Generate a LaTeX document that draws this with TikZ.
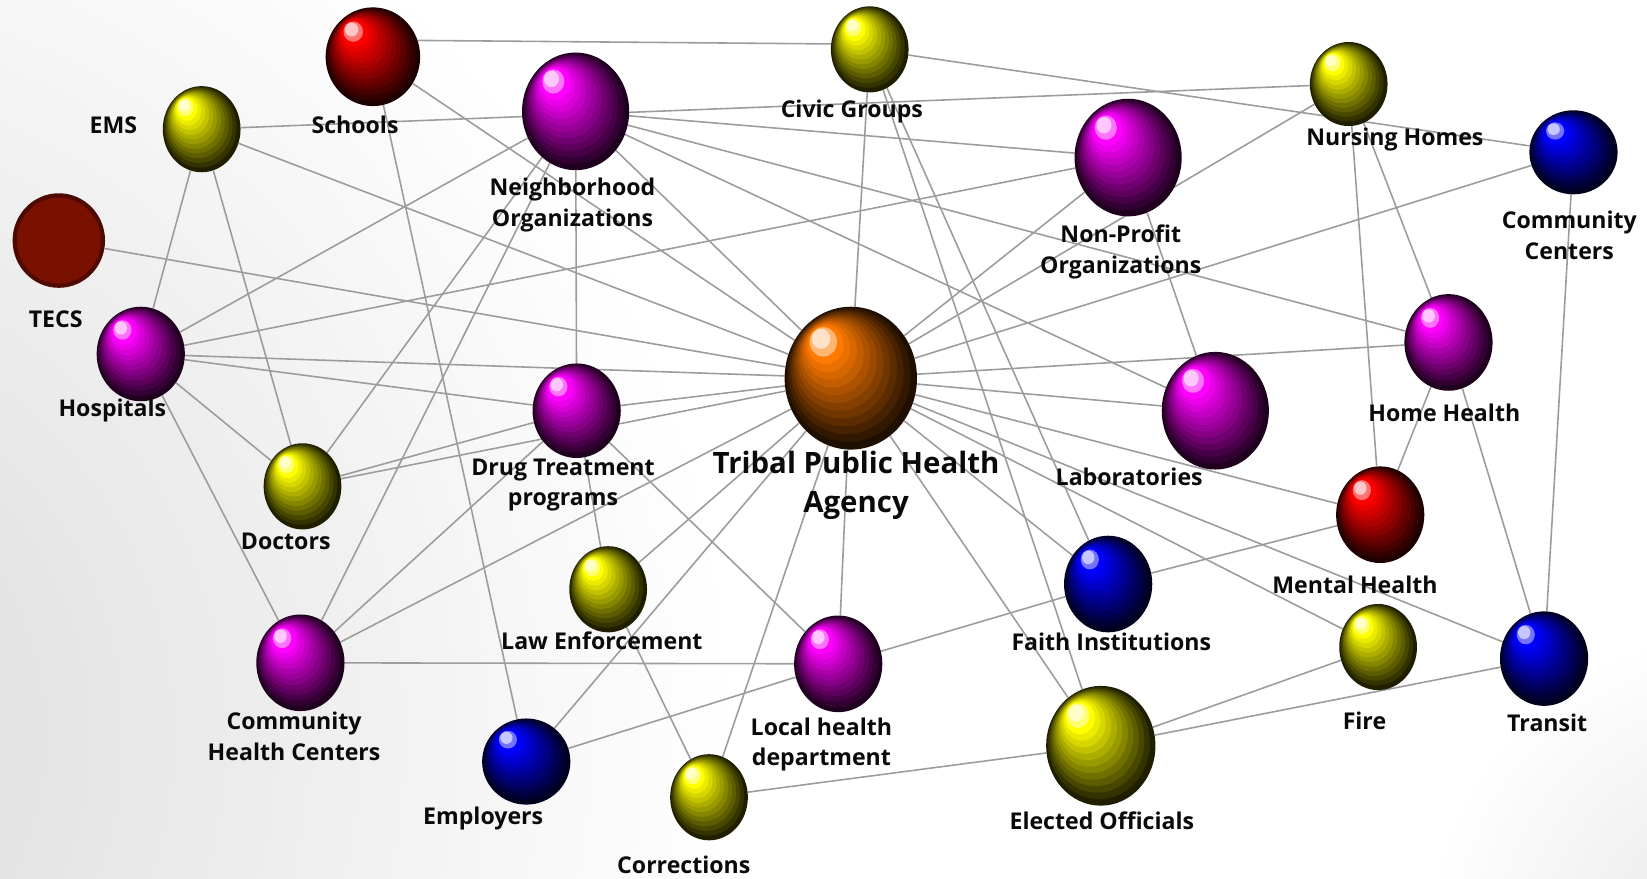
\documentclass[tikz,border=0pt]{standalone}
\usepackage{fontspec}
\setmainfont{Open Sans}
\usetikzlibrary{shapes.geometric}
\definecolor{linkgray}{HTML}{9C9C9C}
\definecolor{ballyellow}{HTML}{FFFF00}
\definecolor{ballmagenta}{HTML}{FF00FF}
\definecolor{ballred}{HTML}{FF0000}
\definecolor{ballblue}{HTML}{0000FF}
\definecolor{ballorange}{HTML}{FF7A00}
\definecolor{tecsfill}{HTML}{7A1000}
\definecolor{tecsedge}{HTML}{4E0A00}
\definecolor{labeltext}{HTML}{0A0A0A}

% invisible ellipse that the links attach to
\newcommand\placeball[6]{%
  \node[ellipse,inner sep=0pt,minimum width={2*#4pt},minimum height={2*#5pt}] (#1) at (#2,#3) {};}
% stepped sphere: nested ellipses drifting towards the highlight
\newcommand\paintball[6]{%
  \foreach \balK in {0,...,13}{%
    \pgfmathsetmacro\balT{\balK/13}%
    \pgfmathsetmacro\balX{#2-0.45*#4*\balT}%
    \pgfmathsetmacro\balY{#3-0.55*#5*\balT}%
    \pgfmathsetmacro\balRX{#4*(1-0.86*\balT)}%
    \pgfmathsetmacro\balRY{#5*(1-0.86*\balT)}%
    \ifnum\balK<12
      \pgfmathtruncatemacro\balP{12+8*\balK}%
      \fill[#6!\balP!black] (\balX,\balY) ellipse [x radius=\balRX pt, y radius=\balRY pt];
    \else\ifnum\balK=12
      \fill[#6!55!white] (\balX,\balY) ellipse [x radius=\balRX pt, y radius=\balRY pt];
    \else
      \fill[#6!22!white] (\balX,\balY) ellipse [x radius=\balRX pt, y radius=\balRY pt];
    \fi\fi
  }}
% soft grey glow: many concentric discs, greyer towards the middle
\newcommand\cornerglow[4]{% x, y, radius, strongest grey (percent)
  \foreach \glR in {#3,...,10}{%
    \pgfmathsetmacro\glG{#4*(1-\glR/#3)}%
    \fill[black!\glG] (#1,#2) circle [radius=\glR pt];
  }}

% name, x, y, x radius, y radius, colour
\newcommand\balllist{%
  \ballitem{schools}{355}{54}{45}{47}{ballred}
  \ballitem{civic}{828}{47}{37}{41}{ballyellow}
  \ballitem{ems}{192}{123}{37}{41}{ballyellow}
  \ballitem{neigh}{548}{106}{51}{56}{ballmagenta}
  \ballitem{nursing}{1284}{80}{37}{40}{ballyellow}
  \ballitem{nonprofit}{1074}{150}{51}{56}{ballmagenta}
  \ballitem{commcent}{1498}{145}{42}{40}{ballblue}
  \ballitem{hospitals}{134}{337}{42}{45}{ballmagenta}
  \ballitem{tribal}{810}{360}{63}{68}{ballorange}
  \ballitem{homehealth}{1379}{326}{42}{46}{ballmagenta}
  \ballitem{drug}{549}{391}{42}{45}{ballmagenta}
  \ballitem{labs}{1157}{391}{51}{56}{ballmagenta}
  \ballitem{doctors}{288}{463}{37}{41}{ballyellow}
  \ballitem{mental}{1314}{490}{42}{46}{ballred}
  \ballitem{lawenf}{579}{561}{37}{41}{ballyellow}
  \ballitem{faith}{1055}{556}{42}{46}{ballblue}
  \ballitem{chc}{286}{631}{42}{46}{ballmagenta}
  \ballitem{localhd}{798}{632}{42}{46}{ballmagenta}
  \ballitem{fire}{1312}{616}{37}{41}{ballyellow}
  \ballitem{transit}{1470}{627}{42}{45}{ballblue}
  \ballitem{employers}{501}{725}{42}{41}{ballblue}
  \ballitem{corrections}{675}{759}{37}{41}{ballyellow}
  \ballitem{elected}{1048}{710}{52}{57}{ballyellow}
}

\begin{document}
\begin{tikzpicture}[x=1pt,y=-1pt,
  link/.style={draw=linkgray,line width=1.5pt},
  lbl/.style={text=labeltext,font=\bfseries\fontsize{22}{29}\selectfont,align=center,inner sep=0pt},
  biglbl/.style={text=labeltext,font=\bfseries\fontsize{28}{37}\selectfont,align=center,inner sep=0pt}]

% page with soft grey corners
\useasboundingbox (0,0) rectangle (1568,836);
\fill[white] (0,0) rectangle (1568,836);
\begin{scope}
  \clip (0,0) rectangle (1568,836);
  \cornerglow{-250}{700}{950}{15}
  \cornerglow{1660}{900}{300}{10}
\end{scope}

% anchors for the links
\let\ballitem\placeball
\balllist
\node[ellipse,inner sep=0pt,minimum width=88pt,minimum height=90pt] (tecs) at (56,229) {};

% links
\draw[link] (schools.20) -- (civic.172);
\foreach \a/\b in {
  schools/tribal, schools/employers,
  ems/nursing, ems/tribal, ems/hospitals, ems/doctors,
  tecs/tribal,
  hospitals/neigh, hospitals/nonprofit, hospitals/tribal, hospitals/drug, hospitals/doctors, hospitals/chc,
  neigh/drug, neigh/doctors, neigh/chc, neigh/tribal, neigh/nonprofit, neigh/homehealth, neigh/labs,
  civic/tribal, civic/commcent, civic/faith, civic/elected,
  nursing/tribal, nursing/mental, nursing/homehealth,
  commcent/tribal, commcent/transit,
  nonprofit/tribal, nonprofit/labs,
  homehealth/tribal, homehealth/mental, homehealth/transit,
  tribal/labs, tribal/drug, tribal/doctors, tribal/chc, tribal/lawenf, tribal/employers,
  tribal/corrections, tribal/localhd, tribal/faith, tribal/elected, tribal/fire, tribal/transit, tribal/mental,
  drug/doctors, drug/chc, drug/lawenf, drug/localhd,
  lawenf/corrections,
  faith/mental, faith/localhd,
  fire/elected, transit/elected,
  localhd/chc, localhd/employers,
  elected/corrections}
  \draw[link] (\a) -- (\b);

% spheres
\let\ballitem\paintball
\balllist
\fill[tecsfill,draw=tecsedge,line width=4pt] (tecs.center) ellipse [x radius=42pt, y radius=43pt];

% labels
\node[lbl] (l-ems) at (108,119) {EMS};
\node[lbl] (l-schools) at (338,119) {Schools};
\node[lbl] (l-civic) at (811,106) {Civic Groups};
\node[lbl] (l-nursing) at (1328,133) {Nursing Homes};
\node[lbl] (l-neigh) at (545,195) {Neighborhood\\Organizations};
\node[lbl] (l-nonprofit) at (1067,240) {Non-Profit\\Organizations};
\node[lbl] (l-commcent) at (1494,224) {Community\\Centers};
\node[lbl] (l-tecs) at (53,304) {TECS};
\node[lbl] (l-hospitals) at (107,391) {Hospitals};
\node[lbl] (l-homehealth) at (1375,393) {Home Health};
\node[lbl] (l-drug) at (536,462) {Drug Treatment\\programs};
\node[biglbl] (l-tribal) at (815,462) {Tribal Public Health\\Agency};
\node[lbl] (l-labs) at (1075,454) {Laboratories};
\node[lbl] (l-doctors) at (272,515) {Doctors};
\node[lbl] (l-mental) at (1290,557) {Mental Health};
\node[lbl] (l-lawenf) at (573,610) {Law Enforcement};
\node[lbl] (l-faith) at (1058,611) {Faith Institutions};
\node[lbl] (l-chc) at (280,701) {Community\\Health Centers};
\node[lbl] (l-localhd) at (782,709) {Local health\\department};
\node[lbl] (l-fire) at (1299,686) {Fire};
\node[lbl] (l-transit) at (1473,688) {Transit};
\node[lbl] (l-employers) at (460,779) {Employers};
\node[lbl] (l-elected) at (1049,781) {Elected Officials};
\node[lbl] (l-corrections) at (651,823) {Corrections};
\end{tikzpicture}
\end{document}
